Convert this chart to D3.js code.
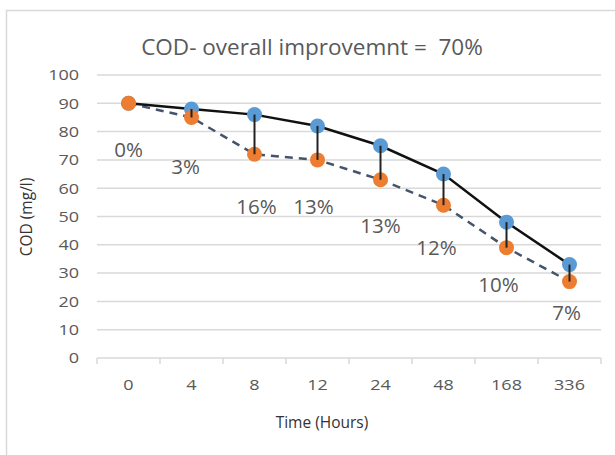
<!DOCTYPE html>
<html>
<head>
<meta charset="utf-8">
<script src="https://cdn.jsdelivr.net/npm/d3@7"></script>
<style>
  html, body { margin: 0; padding: 0; background: #fff; }
  svg { display: block; }
  text { font-family: "Open Sans", sans-serif; white-space: pre; }
</style>
</head>
<body>
<svg id="chart" width="615" height="455"></svg>
<script>
// Sampling times (hours) shown as categories
const hours = ["0", "4", "8", "12", "24", "48", "168", "336"];
// COD readings (mg/l)
const codUpper = [90, 88, 86, 82, 75, 65, 48, 33];
const codLower = [90, 85, 72, 70, 63, 54, 39, 27];
// Improvement stated at each time step
const improvement = ["0%", "3%", "16%", "13%", "13%", "12%", "10%", "7%"];
const yTicks = [0, 10, 20, 30, 40, 50, 60, 70, 80, 90, 100];

// Label placement (pixel offsets below the lower point)
const labelDx = [0, -6, 2, -4, 0, -7, -8, -3];
const labelDy = [47, 50, 53, 47, 46, 43, 37, 31];

const svg = d3.select("#chart");
const plot = { left: 97, right: 601, top: 75, bottom: 358 };
const TICK_SIZE = 15;
const TICK_STRETCH = 1.2;   // wide tick numerals

// chart frame
svg.append("rect")
  .attr("x", 6.5).attr("y", 10.5)
  .attr("width", 640).attr("height", 480)
  .attr("fill", "#fff").attr("stroke", "#d9d9d9").attr("stroke-width", 1.5);

const x = d3.scaleBand().domain(hours).range([plot.left, plot.right]);
const y = d3.scaleLinear().domain([0, 100]).range([plot.bottom, plot.top]);

// horizontal gridlines
svg.append("g").selectAll("line").data(yTicks.filter(d => d > 0)).join("line")
  .attr("x1", plot.left).attr("x2", plot.right)
  .attr("y1", d => y(d)).attr("y2", d => y(d))
  .attr("stroke", "#d9d9d9").attr("stroke-width", 1.5);

// y axis labels
const yAxis = svg.append("g").attr("transform", `translate(${plot.left},0)`)
  .call(d3.axisLeft(y).tickValues(yTicks).tickSize(0).tickPadding(0));
yAxis.select(".domain").remove();
yAxis.selectAll("text")
  .attr("x", 0)
  .attr("transform", `translate(-18,0) scale(${TICK_STRETCH},1)`)
  .attr("font-size", TICK_SIZE).attr("fill", "#595959")
  .style("font-family", "'Open Sans', sans-serif");

// x axis with ticks between categories
const xAxisG = svg.append("g").attr("transform", `translate(0,${plot.bottom})`);
xAxisG.append("line")
  .attr("x1", plot.left).attr("x2", plot.right)
  .attr("stroke", "#d9d9d9").attr("stroke-width", 1.5);
const bounds = hours.map(h => x(h)).concat([plot.right]);
xAxisG.selectAll("line.tick").data(bounds).join("line").attr("class", "tick")
  .attr("x1", d => d).attr("x2", d => d).attr("y1", 0).attr("y2", 6)
  .attr("stroke", "#d9d9d9").attr("stroke-width", 1.5);
xAxisG.selectAll("text").data(hours).join("text")
  .attr("transform", d => `translate(${x(d) + x.bandwidth() / 2},32) scale(${TICK_STRETCH},1)`)
  .attr("text-anchor", "middle").attr("font-size", TICK_SIZE).attr("fill", "#595959")
  .text(d => d);

const cx = (d, i) => x(hours[i]) + x.bandwidth() / 2;

// dashed series
svg.append("path").datum(codLower)
  .attr("d", d3.line().x(cx).y(d => y(d)))
  .attr("fill", "none").attr("stroke", "#44546a").attr("stroke-width", 2.5)
  .attr("stroke-dasharray", "8,6");

// solid series
svg.append("path").datum(codUpper)
  .attr("d", d3.line().x(cx).y(d => y(d)))
  .attr("fill", "none").attr("stroke", "#111").attr("stroke-width", 2.5);

// markers
svg.append("g").selectAll("circle").data(codUpper).join("circle")
  .attr("cx", cx).attr("cy", d => y(d)).attr("r", 7.5).attr("fill", "#5b9bd5");
svg.append("g").selectAll("circle").data(codLower).join("circle")
  .attr("cx", cx).attr("cy", d => y(d)).attr("r", 7.5).attr("fill", "#ed7d31");

// high-low connectors
svg.append("g").selectAll("line").data(codUpper).join("line")
  .attr("x1", cx).attr("x2", cx)
  .attr("y1", d => y(d)).attr("y2", (d, i) => y(codLower[i]))
  .attr("stroke", "#222").attr("stroke-width", 2);

// improvement labels
svg.append("g").selectAll("text").data(improvement).join("text")
  .attr("x", (d, i) => cx(d, i) + labelDx[i])
  .attr("y", (d, i) => y(codLower[i]) + labelDy[i] + 7)
  .attr("text-anchor", "middle").attr("font-size", 20.5).attr("fill", "#595959")
  .text(d => d);

// title
svg.append("text").attr("x", 312).attr("y", 55)
  .attr("text-anchor", "middle").attr("font-size", 22.5).attr("fill", "#595959")
  .text("COD- overall improvemnt =  70%");

// axis titles
svg.append("text").attr("x", 322).attr("y", 428)
  .attr("text-anchor", "middle").attr("font-size", 15.5).attr("fill", "#333")
  .text("Time (Hours)");
svg.append("text")
  .attr("transform", "translate(32,217) rotate(-90)")
  .attr("text-anchor", "middle").attr("font-size", 15.5).attr("fill", "#333")
  .text("COD (mg/l)");
</script>
</body>
</html>
